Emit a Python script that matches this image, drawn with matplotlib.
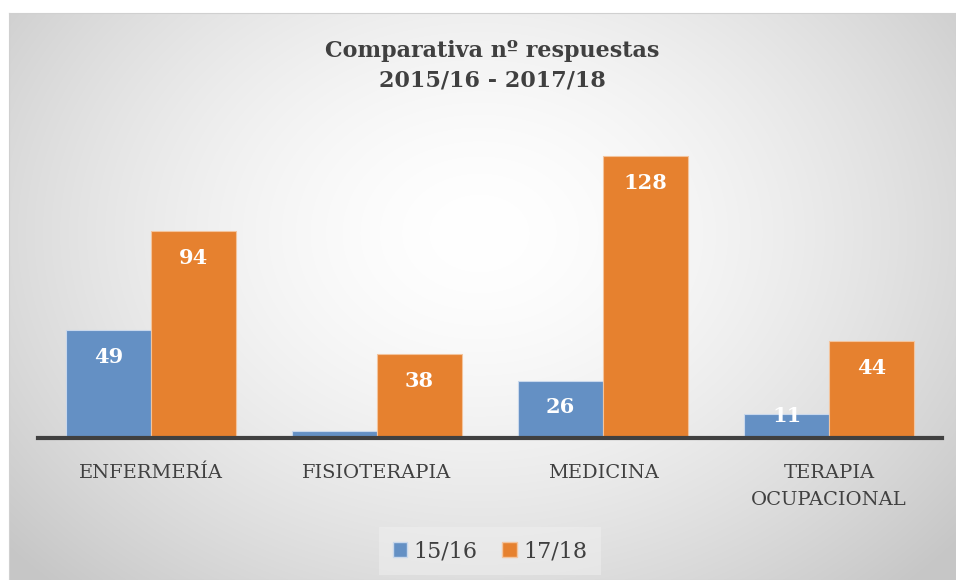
import numpy as np
import matplotlib
matplotlib.use("Agg")
import matplotlib.pyplot as plt
from matplotlib.patches import Patch

categories = ["ENFERMERÍA", "FISIOTERAPIA", "MEDICINA", "TERAPIA\nOCUPACIONAL"]
series_names = ["15/16", "17/18"]
vals_1516 = [49, 3, 26, 11]
vals_1718 = [94, 38, 128, 44]
labels_1516 = ["49", "", "26", "11"]
labels_1718 = ["94", "38", "128", "44"]

blue = "#6490C4"
orange = "#E6812F"
text_col = "#404040"

plt.rcParams["font.family"] = ["DejaVu Serif"]

fig = plt.figure(figsize=(9.56, 5.8), dpi=100)

# radial gradient background for the chart area
bg = fig.add_axes([9 / 956, 0, 1 - 9 / 956, 1 - 13 / 580])
h, w = 567, 947
yy, xx = np.mgrid[0:h, 0:w]
cx, cy = 470, 220
r = np.sqrt(((xx - cx) / 620) ** 2 + ((yy - cy) / 480) ** 2)
g = 1.0 - 0.22 * np.clip(r, 0, 1) ** 1.6
bg.imshow(np.dstack([g, g, g]), aspect="auto", extent=[0, 1, 0, 1])
bg.set_xticks([])
bg.set_yticks([])
for s in bg.spines.values():
    s.set_color("#d0d0d0")
    s.set_linewidth(0.8)
bg.set_zorder(0)

ax = fig.add_axes([38 / 956, 142 / 580, 904 / 956, 308 / 580])
ax.set_zorder(1)
ax.patch.set_alpha(0)

x = np.arange(len(categories))
bw = 0.375
b1 = ax.bar(x - bw / 2, vals_1516, bw, color=blue, edgecolor="#c9d8ec", linewidth=0.8)
b2 = ax.bar(x + bw / 2, vals_1718, bw, color=orange, edgecolor="#f3c49d", linewidth=0.8)

ax.set_xlim(-0.5, len(categories) - 0.5)
ax.set_ylim(0, 140)
ax.set_yticks([])
for sp in ["top", "right", "left"]:
    ax.spines[sp].set_visible(False)
ax.spines["bottom"].set_color(text_col)
ax.spines["bottom"].set_linewidth(3)

ax.set_xticks(x)
ax.set_xticklabels(categories, fontsize=14, color=text_col, linespacing=1.65)
ax.tick_params(axis="x", length=0, pad=19)

# labels sit inside the bar top, but never lower than a minimum height
for bars, labs in [(b1, labels_1516), (b2, labels_1718)]:
    for rect, lab in zip(bars, labs):
        if not lab:
            continue
        yc = max(rect.get_height() - 12, 10)
        ax.text(rect.get_x() + rect.get_width() / 2, yc, lab,
                ha="center", va="center", color="white", fontsize=15, fontweight="bold")

fig.text(492 / 956, 1 - 66 / 580, "Comparativa nº respuestas\n2015/16 - 2017/18",
         ha="center", va="center", fontsize=16, fontweight="bold", color=text_col,
         linespacing=1.45)

handles = [Patch(facecolor=blue, edgecolor="#c9d8ec"), Patch(facecolor=orange, edgecolor="#f3c49d")]
leg = fig.legend(handles, series_names, loc="center", bbox_to_anchor=(490 / 956, 1 - 551 / 580),
                 ncol=2, frameon=True, fontsize=16, handlelength=0.65, handleheight=0.65,
                 handletextpad=0.3, columnspacing=1.1, labelcolor=text_col)
leg.get_frame().set_facecolor("#f0f0f0")
leg.get_frame().set_edgecolor("none")
leg.get_frame().set_alpha(0.5)
leg.get_frame().set_boxstyle("square", pad=0.2)

fig.savefig("out.png", dpi=100)
